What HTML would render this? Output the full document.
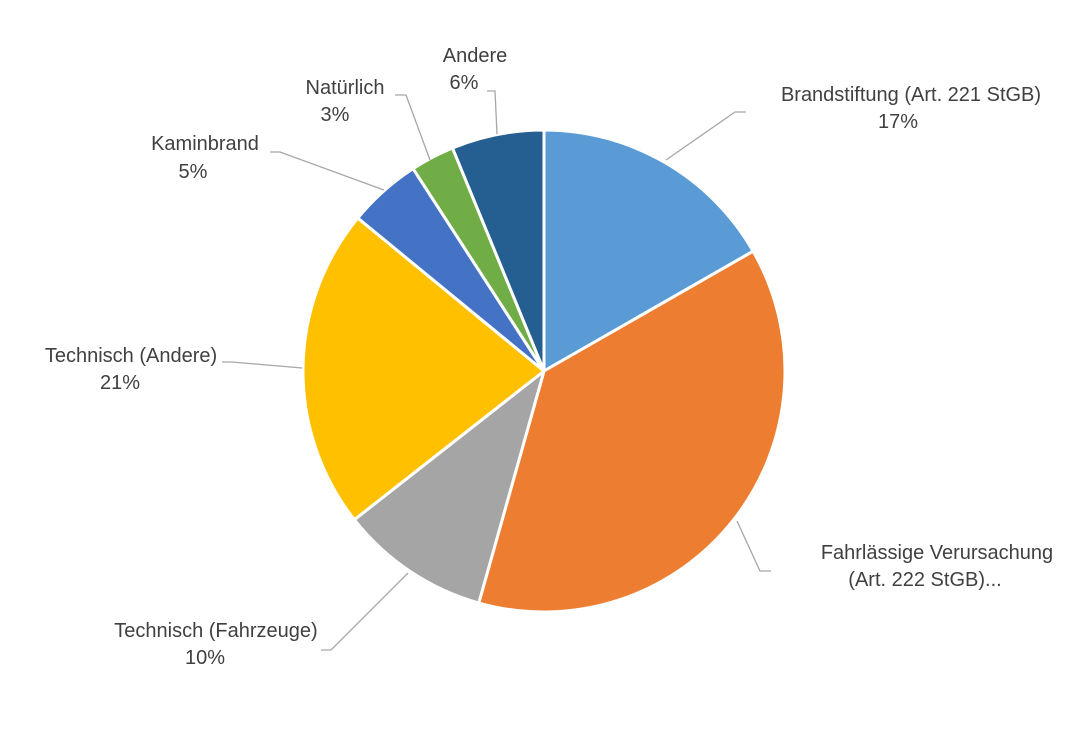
<!DOCTYPE html>
<html><head><meta charset="utf-8"><style>
body{margin:0;background:#fff;}
svg text{font-family:"Liberation Sans",sans-serif;font-size:20px;fill:#404040;text-anchor:middle;}
</style></head><body>
<svg id="s" width="1076" height="727" viewBox="0 0 1076 727" xmlns="http://www.w3.org/2000/svg">
<g id="pie"></g>
<g fill="none" stroke="#a6a6a6" stroke-width="1.3">
<polyline points="666,160 735,112 746,112"/>
<polyline points="737,521 760,571 771,571"/>
<polyline points="408,573 331,650 321,650"/>
<polyline points="302,368 232,362 222,362"/>
<polyline points="384,190 280,152 270,152"/>
<polyline points="430,160 406,95 395,95"/>
<polyline points="497,134 495,91 487,91"/>
</g>
<text x="911" y="101">Brandstiftung (Art. 221 StGB)</text>
<text x="898" y="128">17%</text>
<text x="937" y="559">Fahrlässige Verursachung</text>
<text x="925" y="586">(Art. 222 StGB)...</text>
<text x="216" y="637">Technisch (Fahrzeuge)</text>
<text x="205" y="664">10%</text>
<text x="131" y="362">Technisch (Andere)</text>
<text x="120" y="389">21%</text>
<text x="205" y="150">Kaminbrand</text>
<text x="193" y="178">5%</text>
<text x="345" y="94">Natürlich</text>
<text x="335" y="121">3%</text>
<text x="475" y="62">Andere</text>
<text x="464" y="89">6%</text>
</svg>
<script>
var cx=544,cy=371,r=241;
var b=[0,60.2,195.7,231.9,309.4,327.1,337.7,360];
var c=["#5B9BD5","#ED7D31","#A5A5A5","#FFC000","#4472C4","#70AD47","#255E91"];
function p(a){a=a*Math.PI/180;return [cx+r*Math.sin(a),cy-r*Math.cos(a)];}
var h="";
for(var i=0;i<7;i++){var s=p(b[i]),e=p(b[i+1]);var l=(b[i+1]-b[i])>180?1:0;
h+='<path d="M'+cx+','+cy+' L'+s[0]+','+s[1]+' A'+r+','+r+' 0 '+l+' 1 '+e[0]+','+e[1]+' Z" fill="'+c[i]+'" stroke="#fff" stroke-width="3" stroke-linejoin="round"/>';}
document.getElementById("pie").innerHTML=h;
</script>
</body></html>
